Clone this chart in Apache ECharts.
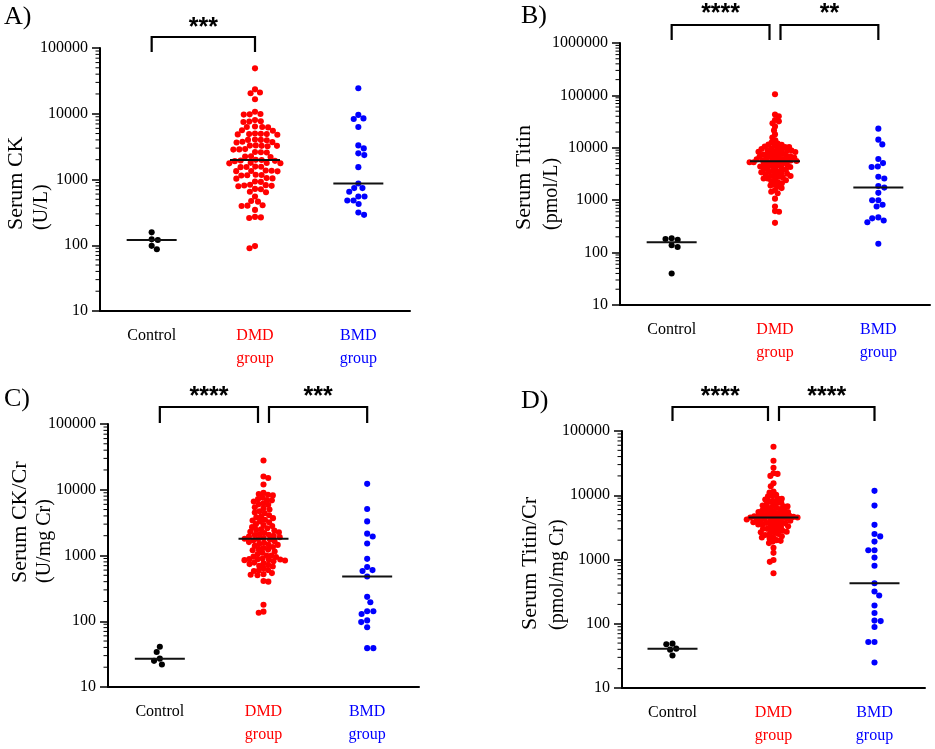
<!DOCTYPE html>
<html>
<head>
<meta charset="utf-8">
<script src="https://cdn.jsdelivr.net/npm/echarts@6/dist/echarts.min.js"></script>
<style>
html,body{margin:0;padding:0;background:#fff}
#chart{width:935px;height:749px}
</style>
</head>
<body>
<div id="chart"></div>
<script>
var groups = ['Control', 'DMD\ngroup', 'BMD\ngroup'];
var groupColors = ['#000000', '#ff0000', '#0000ff'];

// A) serum CK (U/L)
var ckControl = [157, 123, 120, 98, 87];
var ckDMD = [49000, 23500, 21000, 20500, 16600, 10700, 9800, 9700, 9900, 8000, 7600, 7500, 7700,
  6300, 6200, 6400, 6300, 5500, 5600, 4900, 4800, 5000, 4900, 4850, 4950, 4000, 4050, 3950, 4000,
  3700, 3650, 3750, 3250, 3200, 3300, 3250, 3280, 2870, 2850, 2900, 2600, 2580, 2620, 2230, 2200,
  2250, 1920, 1900, 1990, 1980, 1950, 1770, 1760, 1790, 1780, 1560, 1550, 1570, 1540, 1350, 1340,
  1360, 1330, 1370, 1170, 1160, 1180, 1150, 1040, 1030, 1050, 930, 920, 810, 800, 820, 790, 830,
  720, 710, 650, 640, 550, 470, 460, 400, 395, 405, 345, 265, 260, 270, 97, 90];
var ckBMD = [24400, 9600, 8300, 8500, 6300, 3300, 2970, 2500, 2350, 1540, 870, 740, 650, 740, 550,
  550, 480, 480, 425, 290, 315];
var ckComparisons = [[0, 1, '***']];

// B) serum titin (pmol/L)
var titinControl = [188, 182, 176, 138, 128, 40];
var titinDMD = [105000, 43000, 40000, 34000, 32000, 29500, 25600, 21500, 18000, 15700, 13900,
  12800, 12000, 11500, 11400, 10900, 10600, 10300, 10300, 9900, 9600, 9500, 9200, 9100, 8900, 8800,
  8500, 8400, 8300, 7900, 7900, 7700, 7500, 7400, 7100, 7000, 6900, 6800, 6600, 6500, 6500, 6300,
  6100, 6000, 5900, 5800, 5800, 5700, 5600, 5500, 5400, 5300, 5300, 5200, 5100, 4900, 4800, 4800,
  4600, 4500, 4400, 4300, 4300, 4100, 4000, 3900, 3800, 3600, 3500, 3500, 3400, 3300, 3200, 3100,
  3000, 2900, 2900, 2800, 2700, 2600, 2600, 2500, 2400, 2300, 2200, 2100, 2000, 1900, 1800, 1700,
  1560, 1450, 1360, 1070, 760, 620, 600, 370];
var titinBMD = [23200, 14300, 11600, 6100, 5100, 4300, 4400, 2600, 2800, 1740, 1870, 1380, 1000,
  1000, 820, 760, 470, 410, 450, 380, 148];
var titinComparisons = [[0, 1, '****'], [1, 2, '**']];

// C) serum CK/Cr (U/mg Cr)
var ckcrControl = [41, 34, 27, 25, 22];
var ckcrDMD = [27900, 15900, 15100, 12000, 9000, 8400, 8200, 8600, 7600, 7200, 7000, 6900, 6600,
  6200, 6000, 5900, 5400, 5200, 5000, 4700, 4500, 4400, 4100, 3900, 3800, 3700, 3500, 3400, 3300,
  3200, 3000, 2900, 2800, 2700, 2600, 2500, 2450, 2400, 2300, 2250, 2200, 2100, 2070, 2050, 2000,
  1950, 1900, 1850, 1800, 1780, 1750, 1700, 1650, 1600, 1560, 1500, 1460, 1450, 1400, 1350, 1300,
  1250, 1230, 1200, 1150, 1100, 1050, 1000, 1000, 960, 950, 900, 880, 880, 870, 860, 850, 840, 820,
  780, 760, 740, 720, 700, 680, 640, 600, 590, 580, 540, 510, 500, 520, 410, 400, 178, 140, 135];
var ckcrBMD = [12300, 5100, 3300, 2150, 1950, 1520, 890, 600, 670, 580, 480, 235, 195, 142, 129,
  142, 103, 97, 81, 39, 39];
var ckcrComparisons = [[0, 1, '****'], [1, 2, '***']];

// D) serum titin/Cr (pmol/mg Cr)
var titcrControl = [41, 39.5, 49, 48, 32];
var titcrDMD = [57000, 34500, 26700, 22000, 21500, 20000, 15400, 13800, 11400, 11000,
  10200, 9700, 9600, 8900, 8800, 8600, 8100, 8000, 7600, 7600, 7200, 7000, 6900, 6700, 6700, 6400,
  6300, 6100, 6000, 5800, 5800, 5700, 5500, 5500, 5300, 5300, 5200, 5000, 5000, 4900, 4900, 4800,
  4700, 4700, 4600, 4600, 4550, 4500, 4500,
  4400, 4350, 4300, 4200, 4200, 4100, 4100, 4000, 3950, 3900, 3800, 3800, 3700, 3650, 3600, 3500,
  3500, 3400, 3300, 3300, 3200, 3100, 3000, 3000, 2900, 2800, 2800, 2700, 2650, 2600, 2500, 2450,
  2400, 2300, 2200, 2200, 2100, 2000, 1950, 1900, 1800, 1520, 1270, 980, 920, 610];
var titcrBMD = [11700, 6900, 3460, 2500, 2290, 1900, 1390, 1390, 1070, 800, 426, 275, 318, 192,
  147, 110, 112, 89, 52, 52, 25];
var titcrComparisons = [[0, 1, '****'], [1, 2, '****']];

var SERIF = '"Liberation Serif", "Times New Roman", serif';
var DOT = 6.1;      // symbol diameter
var SPARSE_GAP = 6.2;

var panels = [
  {label: 'A)', title: ['Serum CK', '(U/L)'], data: [ckControl, ckDMD, ckBMD], max: 100000,
   comps: ckComparisons, grid: {left: 100, top: 48, width: 310, height: 263}, gap: 5.9,
   br: {top: -11, leg: 4, star: -20}, labelPos: [4, 17], titlePos: [[16, 230], [42, 230]]},
  {label: 'B)', title: ['Serum Titin', '(pmol/L)'], data: [titinControl, titinDMD, titinBMD], max: 1000000,
   comps: titinComparisons, grid: {left: 620, top: 43, width: 310, height: 262}, gap: 4.1,
   br: {top: -18, leg: -3, star: -29}, labelPos: [521, 16], titlePos: [[524, 230], [552, 230]]},
  {label: 'C)', title: ['Serum CK/Cr', '(U/mg Cr)'], data: [ckcrControl, ckcrDMD, ckcrBMD], max: 100000,
   comps: ckcrComparisons, grid: {left: 108, top: 424, width: 311, height: 263}, gap: 4.9,
   br: {top: -17, leg: -1, star: -27}, labelPos: [4, 399], titlePos: [[20, 583], [45, 583]]},
  {label: 'D)', title: ['Serum Titin/Cr', '(pmol/mg Cr)'], data: [titcrControl, titcrDMD, titcrBMD], max: 100000,
   comps: titcrComparisons, grid: {left: 622, top: 431, width: 303, height: 257}, gap: 4.1,
   br: {top: -24, leg: -10, star: -34}, labelPos: [521, 401], titlePos: [[530, 630], [558, 630]]}
];

function median(arr) {
  var s = arr.slice().sort(function (a, b) { return a - b; });
  var m = Math.floor(s.length / 2);
  return s.length % 2 ? s[m] : (s[m - 1] + s[m]) / 2;
}

// simple beeswarm: place each point as close to the centre line as it can go
function swarm(pys, d) {
  var idx = pys.map(function (_, i) { return i; });
  idx.sort(function (a, b) { return pys[a] - pys[b]; });
  var placed = [], out = [];
  idx.forEach(function (i, n) {
    var y = pys[i];
    var cands = [0];
    placed.forEach(function (p) {
      var dy = Math.abs(p.y - y);
      if (dy < d) {
        var w = Math.sqrt(d * d - dy * dy);
        cands.push(p.x + w, p.x - w);
      }
    });
    var sign = n % 2 ? 1 : -1;
    cands.sort(function (a, b) {
      var da = Math.abs(a) - Math.abs(b);
      if (Math.abs(da) > 0.01) return da;
      return sign * (a - b);
    });
    var x = 0;
    for (var k = 0; k < cands.length; k++) {
      var c = cands[k], ok = true;
      for (var j = 0; j < placed.length; j++) {
        var dx = placed[j].x - c, dy2 = placed[j].y - y;
        if (dx * dx + dy2 * dy2 < d * d - 0.01) { ok = false; break; }
      }
      if (ok) { x = c; break; }
    }
    placed.push({x: x, y: y});
    out[i] = x;
  });
  return out;
}

var grids = [], xAxes = [], yAxes = [], series = [], graphics = [];

panels.forEach(function (p, pi) {
  grids.push({left: p.grid.left, top: p.grid.top, width: p.grid.width, height: p.grid.height});

  xAxes.push({
    type: 'category', gridIndex: pi,
    data: groups.map(function (g, gi) { return {value: g, textStyle: {color: groupColors[gi]}}; }),
    boundaryGap: true,
    axisLine: {onZero: false, lineStyle: {color: '#000', width: 2}},
    axisTick: {alignWithLabel: true, length: 7, lineStyle: {color: '#000', width: 2}},
    axisLabel: {fontFamily: SERIF, fontSize: 16, margin: 13, lineHeight: 23, color: '#000'}
  });
  xAxes.push({type: 'value', gridIndex: pi, min: -0.5, max: 2.5, show: false});

  yAxes.push({
    type: 'log', logBase: 10, gridIndex: pi, min: 10, max: p.max,
    axisLine: {show: true, onZero: false, lineStyle: {color: '#000', width: 2}},
    axisTick: {show: true, length: 8, lineStyle: {color: '#000', width: 1.5}},
    splitLine: {show: false},
    axisLabel: {fontFamily: SERIF, fontSize: 16, color: '#000', margin: 12,
      formatter: function (v) { return String(Math.round(v)); }}
  });

  var vx = pi * 2 + 1;

  // minor log ticks (2..9 of every decade)
  var minor = [];
  for (var k = 10; k < p.max; k *= 10) {
    for (var m = 2; m <= 9; m++) minor.push([-0.5, m * k]);
  }
  series.push({
    type: 'custom', xAxisIndex: vx, yAxisIndex: pi, clip: false, silent: true,
    data: minor,
    renderItem: function (params, api) {
      var c = api.coord([api.value(0), api.value(1)]);
      return {type: 'line', shape: {x1: c[0] - 4.5, y1: c[1], x2: c[0], y2: c[1]},
        style: {stroke: '#000', lineWidth: 1}};
    }
  });

  p.data.forEach(function (vals, g) {
    series.push({
      id: 'pts-' + pi + '-' + g,
      type: 'scatter', xAxisIndex: vx, yAxisIndex: pi,
      symbolSize: DOT, z: 3,
      itemStyle: {color: groupColors[g], opacity: 1},
      data: vals.map(function (v) { return [g, v]; })
    });
  });

  // median lines
  series.push({
    type: 'custom', xAxisIndex: vx, yAxisIndex: pi, clip: false, silent: true, z: 5,
    data: p.data.map(function (vals, g) { return [g, median(vals)]; }),
    renderItem: function (params, api) {
      var c = api.coord([api.value(0), api.value(1)]);
      return {type: 'line', shape: {x1: c[0] - 25, y1: c[1], x2: c[0] + 25, y2: c[1]},
        style: {stroke: '#111', lineWidth: 2}};
    }
  });

  // significance brackets
  series.push({
    type: 'custom', xAxisIndex: vx, yAxisIndex: pi, clip: false, silent: true, z: 5,
    data: p.comps.map(function (c) { return [c[0], p.max]; }),
    renderItem: function (params, api) {
      var comp = p.comps[params.dataIndex];
      var top = api.coord([0, p.max])[1];
      var x1 = api.coord([comp[0], p.max])[0];
      var x2 = api.coord([comp[1], p.max])[0];
      p.comps.forEach(function (o) {
        if (o === comp) return;
        if (o[1] === comp[0]) x1 += 5.5;
        if (o[0] === comp[1]) x2 -= 5.5;
      });
      var yt = top + p.br.top, yl = top + p.br.leg;
      return {type: 'group', children: [
        {type: 'polyline', shape: {points: [[x1, yl], [x1, yt], [x2, yt], [x2, yl]]},
          style: {stroke: '#000', lineWidth: 2.2, fill: null}},
        {type: 'text', style: {text: comp[2], x: (x1 + x2) / 2, y: top + p.br.star,
          align: 'center', verticalAlign: 'middle',
          font: 'bold 25px "Liberation Sans", Arial, sans-serif', fill: '#000'}}
      ]};
    }
  });

  graphics.push({type: 'text', left: p.labelPos[0], top: p.labelPos[1] - 13,
    style: {text: p.label, font: '26px ' + SERIF, fill: '#000'}});
  graphics.push({type: 'text', x: p.titlePos[0][0], y: p.titlePos[0][1], rotation: Math.PI / 2,
    style: {text: p.title[0], font: '22px ' + SERIF, fill: '#000', align: 'left', verticalAlign: 'middle'}});
  graphics.push({type: 'text', x: p.titlePos[1][0], y: p.titlePos[1][1], rotation: Math.PI / 2,
    style: {text: p.title[1], font: '20px ' + SERIF, fill: '#000', align: 'left', verticalAlign: 'middle'}});
});

var chart = echarts.init(document.getElementById('chart'));
chart.setOption({
  animation: false,
  backgroundColor: '#fff',
  grid: grids, xAxis: xAxes, yAxis: yAxes, series: series, graphic: graphics
});

// second pass: spread the points sideways using the axes' pixel scale
var updates = [];
panels.forEach(function (p, pi) {
  var vx = pi * 2 + 1;
  var unit = chart.convertToPixel({xAxisIndex: vx}, 1) - chart.convertToPixel({xAxisIndex: vx}, 0);
  p.data.forEach(function (vals, g) {
    var pys = vals.map(function (v) { return chart.convertToPixel({yAxisIndex: pi}, v); });
    var offs = swarm(pys, g === 1 ? p.gap : SPARSE_GAP);
    updates.push({id: 'pts-' + pi + '-' + g,
      data: vals.map(function (v, i) { return [g + offs[i] / unit, v]; })});
  });
});
chart.setOption({series: updates});

window.addEventListener('resize', function () { chart.resize(); });
</script>
</body>
</html>
